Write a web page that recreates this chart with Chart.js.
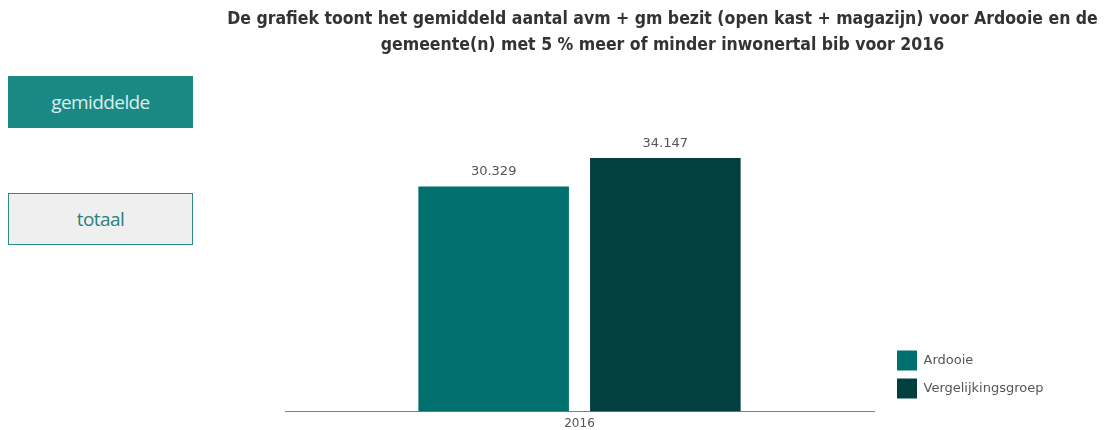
<!DOCTYPE html>
<html>
<head>
<meta charset="utf-8">
<script src="https://cdn.jsdelivr.net/npm/chart.js@4.4.0/dist/chart.umd.min.js"></script>
<style>
  body { margin: 0; background: #ffffff; }
  .wrap { position: relative; width: 1105px; height: 430px; }
  #myCanvas { position: absolute; left: 0; top: 0; }
  .btn {
    position: absolute;
    left: 8px;
    width: 185px;
    height: 52px;
    box-sizing: border-box;
    font-family: "Open Sans", sans-serif;
    font-size: 19px;
    letter-spacing: -0.6px;
    line-height: 52px;
    text-align: center;
  }
  .btn-active { top: 76px; background: #1b8983; color: #dceeed; }
  .btn-plain { top: 193px; background: #efefef; border: 1px solid #2b8c88; color: #2e7f7d; line-height: 50px; }
</style>
</head>
<body>
<div class="wrap">
  <div class="btn btn-active">gemiddelde</div>
  <div class="btn btn-plain">totaal</div>
  <canvas id="myCanvas" width="1105" height="430"></canvas>
</div>
<script>
const years = ["2016"];
const seriesNames = ["Ardooie", "Vergelijkingsgroep"];
const ardooieValues = [30329];
const groepValues = [34147];
const seriesColors = ["#006f6e", "#023f3f"];
const titleLines = [
  "De grafiek toont het gemiddeld aantal avm + gm bezit (open kast + magazijn) voor Ardooie en de",
  "gemeente(n) met 5 % meer of minder inwonertal bib voor 2016",
];

function formatNumber(n) {
  return String(n).replace(/\B(?=(\d{3})+(?!\d))/g, ".");
}

const legendWidthPlugin = {
  id: "legendWidthPlugin",
  beforeInit(chart) {
    const originalFit = chart.legend.fit;
    chart.legend.fit = function () {
      originalFit.bind(chart.legend)();
      this.width = 216;
    };
  },
  afterLayout(chart) {
    // legend sits a bit above the x axis in the original
    chart.legend.bottom = chart.chartArea.bottom - 5;
  },
};

const valueLabelPlugin = {
  id: "valueLabelPlugin",
  afterDatasetsDraw(chart) {
    const ctx = chart.ctx;
    ctx.save();
    ctx.font = "13px 'DejaVu Sans'";
    ctx.fillStyle = "#555555";
    ctx.textAlign = "center";
    ctx.textBaseline = "bottom";
    chart.data.datasets.forEach((ds, i) => {
      chart.getDatasetMeta(i).data.forEach((bar, j) => {
        ctx.fillText(formatNumber(ds.data[j]), bar.x, bar.y - 8);
      });
    });
    ctx.restore();
  },
};

new Chart(document.getElementById("myCanvas"), {
  type: "bar",
  data: {
    labels: years,
    datasets: [
      {
        label: seriesNames[0],
        data: ardooieValues,
        backgroundColor: seriesColors[0],
      },
      {
        label: seriesNames[1],
        data: groepValues,
        backgroundColor: seriesColors[1],
      },
    ],
  },
  options: {
    responsive: false,
    animation: false,
    layout: {
      padding: { left: 220, right: 0, top: 0, bottom: -6 },
    },
    datasets: {
      bar: {
        categoryPercentage: 0.583,
        barPercentage: 0.877,
      },
    },
    scales: {
      x: {
        grid: { display: false, drawTicks: false },
        border: { display: true, color: "#808080", width: 1 },
        ticks: {
          color: "#555555",
          font: { family: "DejaVu Sans", size: 12 },
          padding: 5,
        },
      },
      y: {
        min: 0,
        max: 45000,
        grid: { display: false, drawTicks: false },
        border: { display: false },
        ticks: { display: false },
        afterFit(scale) {
          scale.width = 65;
        },
      },
      yRight: {
        position: "right",
        grid: { display: false, drawTicks: false },
        border: { display: false },
        ticks: { display: false },
        afterFit(scale) {
          scale.width = 15;
        },
      },
    },
    plugins: {
      tooltip: { enabled: false },
      title: {
        display: true,
        text: titleLines,
        color: "#333333",
        font: { family: "DejaVu Sans Condensed", size: 17.5, weight: "bold", lineHeight: 1.5 },
        padding: { top: 6, bottom: 19 },
      },
      legend: {
        position: "right",
        align: "end",
        labels: {
          boxWidth: 20,
          boxHeight: 20,
          padding: 8,
          color: "#555555",
          font: { family: "DejaVu Sans", size: 13 },
        },
      },
    },
  },
  plugins: [legendWidthPlugin, valueLabelPlugin],
});
</script>
</body>
</html>
